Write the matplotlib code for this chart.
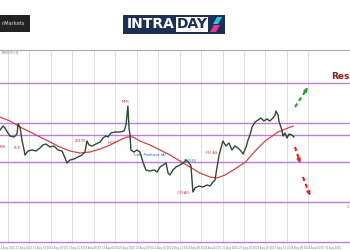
import matplotlib
matplotlib.use('Agg')
import matplotlib.pyplot as plt
from matplotlib.patches import Rectangle, Polygon
import numpy as np

# price path (day index, price)
days = [-0.37, -0.23, -0.14, 0.00, 0.09, 0.28, 0.42, 0.47, 0.56, 0.65, 0.75, 0.79,
        0.93, 1.12, 1.31, 1.49, 1.63, 1.77, 1.96, 2.14, 2.33, 2.52, 2.66, 2.75,
        2.89, 3.08, 3.26, 3.45, 3.59, 3.68, 3.78, 3.92, 4.10, 4.29, 4.43, 4.57,
        4.66, 4.80, 4.99, 5.22, 5.41, 5.50, 5.59, 5.64, 5.69, 5.73, 5.87, 6.01,
        6.15, 6.29, 6.43, 6.62, 6.81, 6.95, 7.09, 7.23, 7.37, 7.46, 7.55, 7.69,
        7.83, 8.02, 8.16, 8.30, 8.44, 8.53, 8.62, 8.72, 8.90, 9.09, 9.28, 9.42,
        9.56, 9.65, 9.74, 9.84, 9.93, 10.02, 10.16, 10.30, 10.44, 10.58, 10.72, 10.86,
        10.96, 11.10, 11.19, 11.28, 11.38, 11.52, 11.66, 11.79, 11.93, 12.07, 12.21, 12.35,
        12.45, 12.49, 12.59, 12.63, 12.77, 12.82, 12.91, 13.01, 13.10, 13.24, 13.33]
price = [1.1580, 1.1596, 1.1588, 1.1568, 1.1556, 1.1552, 1.1564, 1.1604, 1.1592, 1.1540, 1.1500, 1.1480,
         1.1496, 1.1500, 1.1496, 1.1508, 1.1520, 1.1524, 1.1512, 1.1516, 1.1500, 1.1496, 1.1468, 1.1448,
         1.1460, 1.1464, 1.1472, 1.1480, 1.1492, 1.1536, 1.1520, 1.1516, 1.1524, 1.1532, 1.1548, 1.1556,
         1.1552, 1.1568, 1.1572, 1.1572, 1.1576, 1.1600, 1.1676, 1.1588, 1.1560, 1.1500, 1.1492, 1.1500,
         1.1492, 1.1452, 1.1420, 1.1416, 1.1420, 1.1412, 1.1432, 1.1440, 1.1448, 1.1408, 1.1400, 1.1420,
         1.1432, 1.1440, 1.1448, 1.1460, 1.1448, 1.1436, 1.1332, 1.1348, 1.1356, 1.1352, 1.1360, 1.1356,
         1.1372, 1.1380, 1.1428, 1.1480, 1.1508, 1.1536, 1.1516, 1.1528, 1.1500, 1.1516, 1.1508, 1.1496,
         1.1484, 1.1512, 1.1540, 1.1560, 1.1592, 1.1612, 1.1620, 1.1628, 1.1616, 1.1624, 1.1616, 1.1628,
         1.1640, 1.1656, 1.1640, 1.1616, 1.1580, 1.1556, 1.1568, 1.1548, 1.1564, 1.1560, 1.1552]

# moving average
ma_days = [-0.37, 0.09, 0.56, 1.03, 1.49, 1.96, 2.42, 2.89, 3.36, 3.82, 4.29, 4.76, 5.22, 5.55,
           5.83, 6.15, 6.62, 7.09, 7.55, 8.02, 8.48, 8.95, 9.42, 9.74, 10.12, 10.58, 11.07,
           11.52, 11.99, 12.59, 13.29]
ma = [1.1632, 1.1616, 1.1592, 1.1572, 1.1552, 1.1532, 1.1512, 1.1496, 1.1488, 1.1492, 1.1504,
      1.1520, 1.1540, 1.1552, 1.1552, 1.1536, 1.1520, 1.1500, 1.1480, 1.1456, 1.1432, 1.1408,
      1.1392, 1.1388, 1.1400, 1.1424, 1.1452, 1.1496, 1.1536, 1.1572, 1.1596]

levels = [1.1768, 1.1608, 1.1560, 1.1452, 1.1292, 1.1132]

events = ['MFR', 'FCE', 'PMI', '20170', 'HICP', 'Core Producer (A)', '200/34', 'CPI AO', 'FFI AS']
event_x = [5.46, 0.42, -0.22, 3.36, 4.85, 6.62, 8.48, 8.16, 9.51]
event_y = [1.1692, 1.1508, 1.1512, 1.1536, 1.1528, 1.1480, 1.1456, 1.1330, 1.1488]
event_col = ['#d03030', '#d03030', '#d03030', '#d03030', '#d03030', '#3050c0', '#3050c0', '#d03030', '#d03030']

date_labels = ['14 Aug 2025', '15 Aug 2025', '15 Aug 20:00', '16 Aug 16:00', '17 Aug 12:00',
               '18 Aug 08:00', '19 Aug 04:00', '20 Aug 2025', '20 Aug 20:00', '21 Aug 16:00',
               '22 Aug 12:00', '23 Aug 08:00', '24 Aug 04:00', '25 Aug 2025', '25 Aug 20:00',
               '26 Aug 16:00', '27 Aug 12:00', '28 Aug 08:00', '29 Aug 04:00', '30 Aug 2025']

fig = plt.figure(figsize=(3.5, 2.5), dpi=100)
fig.patch.set_facecolor('white')
ax = fig.add_axes([0, 0.024, 1, 0.776])
ax.set_xlim(-0.373, 15.944)
ax.set_ylim(1.1124, 1.1900)

for d in range(15):
    ax.axvline(d, color='#dadada', lw=0.6, zorder=1)
for lv in levels:
    ax.axhline(lv, color='#b97fdc', lw=1.0, zorder=2)

ax.plot(ma_days, ma, color='#d04545', lw=0.9, zorder=3)
ax.plot(days, price, color='#2e4a30', lw=1.0, zorder=4)

for t, x, y, c in zip(events, event_x, event_y, event_col):
    ax.text(x, y, t, fontsize=2.6, color=c, ha='center', va='center', zorder=5)

# arrows
ax.plot([13.38, 13.90], [1.1672, 1.1740], color='#2ca02c', lw=1.5, ls=(0, (2, 1.5)), zorder=6)
ax.annotate('', xy=(13.96, 1.1750), xytext=(13.86, 1.1734),
            arrowprops=dict(arrowstyle='-|>', color='#2ca02c', lw=1.2, mutation_scale=5))
ax.plot([13.38, 13.58], [1.1512, 1.1460], color='#e02020', lw=1.5, ls=(0, (2, 1.5)), zorder=6)
ax.annotate('', xy=(13.62, 1.1448), xytext=(13.55, 1.1466),
            arrowprops=dict(arrowstyle='-|>', color='#e02020', lw=1.2, mutation_scale=5))
ax.plot([13.75, 14.02], [1.1392, 1.1330], color='#e02020', lw=1.5, ls=(0, (2, 1.5)), zorder=6)
ax.annotate('', xy=(14.08, 1.1318), xytext=(14.00, 1.1336),
            arrowprops=dict(arrowstyle='-|>', color='#e02020', lw=1.2, mutation_scale=5))

ax.text(15.93, 1.1792, 'Res', fontsize=6.5, fontweight='bold', color='#8e1b1b',
        ha='right', va='center')
ax.text(15.80, 1.1270, 'S', fontsize=2.6, color='#888888', ha='left', va='center')

ax.set_xticks(np.arange(len(date_labels)) * 0.8 - 0.05)
ax.set_xticklabels(date_labels, fontsize=1.8, color='#777777')
ax.tick_params(axis='x', length=0, pad=1.5)
ax.set_yticks([])
for s in ['left', 'right', 'bottom']:
    ax.spines[s].set_visible(False)
ax.spines['top'].set_color('#aaaaaa')
ax.spines['top'].set_linewidth(0.8)
ax.text(0.005, 0.995, 'EURUSD,H4', transform=ax.transAxes, fontsize=2.2, color='#888888',
        ha='left', va='top')

# logos (figure coordinates)
W, H = 350.0, 250.0
def fx(px):
    return px / W
def fy(py):
    return 1 - py / H

fig.patches.append(Rectangle((fx(0), fy(32)), fx(30), 17 / H, transform=fig.transFigure,
                             facecolor='#232323', edgecolor='none'))
fig.text(fx(1), fy(23.5), 'nMarkets', fontsize=3.6, color='#e0e0e0', ha='left', va='center')

fig.patches.append(Rectangle((fx(123), fy(34)), 102 / W, 19 / H, transform=fig.transFigure,
                             facecolor='#1c2f55', edgecolor='none'))
fig.patches.append(Rectangle((fx(176), fy(31.5)), 32 / W, 14 / H, transform=fig.transFigure,
                             facecolor='white', edgecolor='none'))
fig.text(fx(151), fy(24.5), 'INTRA', fontsize=10, fontweight='bold', color='white',
         ha='center', va='center')
fig.text(fx(192), fy(24.5), 'DAY', fontsize=10, fontweight='bold', color='#1c2f55',
         ha='center', va='center')
fig.patches.append(Polygon([(fx(213), fy(24)), (fx(217), fy(17)), (fx(222), fy(17)), (fx(218), fy(24))],
                           closed=True, transform=fig.transFigure, facecolor='#2ec4d8', edgecolor='none'))
fig.patches.append(Polygon([(fx(210), fy(32)), (fx(214), fy(25)), (fx(220), fy(25)), (fx(216), fy(32))],
                           closed=True, transform=fig.transFigure, facecolor='#e8338f', edgecolor='none'))

fig.savefig('out.png', dpi=100)
